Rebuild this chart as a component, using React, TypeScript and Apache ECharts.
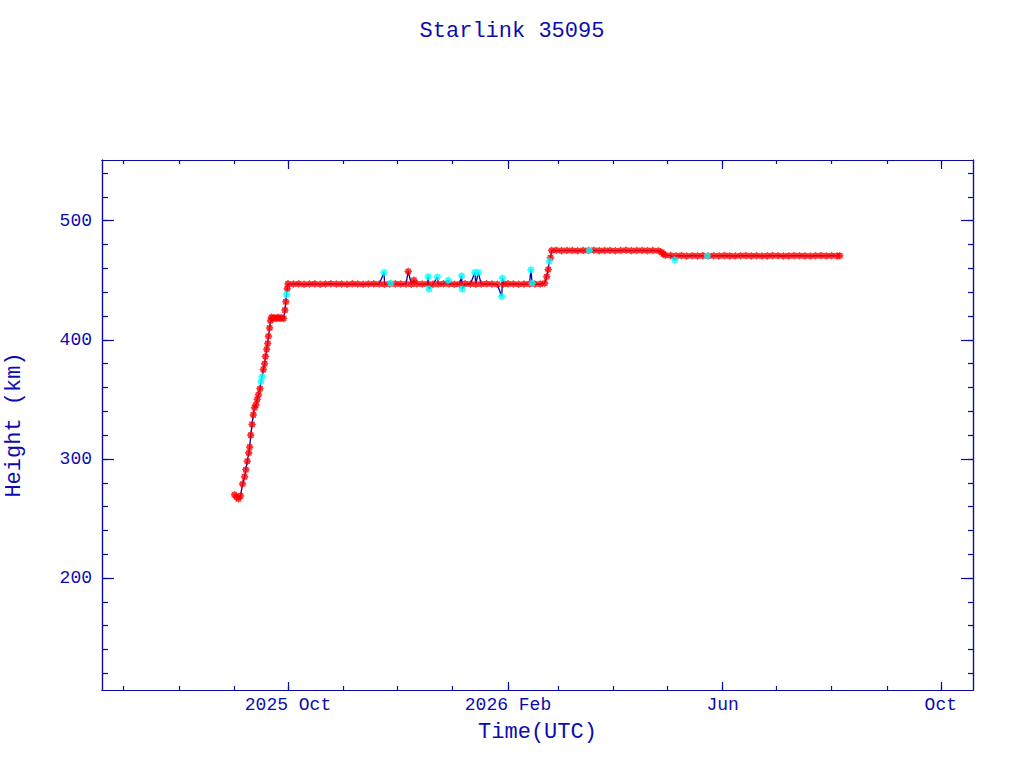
import React, { useEffect, useRef } from "react";
import * as echarts from "echarts";

// ---------- data ----------
const chartTitle = "Starlink 35095";
const xAxisTitle = "Time(UTC)";
const yAxisTitle = "Height (km)";

const xRange = ["2025-06-19", "2026-10-19"];
const yRange = [106, 551];

const monthTicks = [
  "2025-07-01", "2025-08-01", "2025-09-01", "2025-10-01", "2025-11-01", "2025-12-01",
  "2026-01-01", "2026-02-01", "2026-03-01", "2026-04-01", "2026-05-01", "2026-06-01",
  "2026-07-01", "2026-08-01", "2026-09-01", "2026-10-01",
];
const labelMonths = ["2025-10-01", "2026-02-01", "2026-06-01", "2026-10-01"];
const labelTexts = ["2025 Oct", "2026 Feb", "Jun", "Oct"];

const yMajorTicks = [200, 300, 400, 500];
const yMinorTicks = [
  120, 140, 160, 180, 200, 220, 240, 260, 280, 300, 320, 340, 360, 380, 400, 420, 440, 460,
  480, 500, 520, 540,
];

// ascent after launch (red)
const ascentRed: [string, number][] = [
  ["2025-09-01 02", 270], ["2025-09-02 05", 268], ["2025-09-03 07", 266.5], ["2025-09-04 11", 269],
  ["2025-09-05 14", 279], ["2025-09-06 17", 285], ["2025-09-07 10", 291], ["2025-09-08 06", 298],
  ["2025-09-09 01", 305], ["2025-09-09 14", 310], ["2025-09-10 04", 320], ["2025-09-10 22", 329],
  ["2025-09-11 14", 337], ["2025-09-12 07", 343], ["2025-09-13 02", 345.5], ["2025-09-13 19", 350],
  ["2025-09-14 12", 354], ["2025-09-15 08", 359], ["2025-09-17 05", 375], ["2025-09-17 22", 380],
  ["2025-09-18 10", 386], ["2025-09-19 02", 392], ["2025-09-19 16", 397], ["2025-09-20 02", 403],
  ["2025-09-20 17", 410], ["2025-09-21 05", 416], ["2025-09-21 19", 419], ["2025-09-22 12", 418],
  ["2025-09-23 12", 418.5], ["2025-09-24 12", 418], ["2025-09-25 12", 419], ["2025-09-26 12", 418],
  ["2025-09-27 12", 418.5], ["2025-09-28 12", 418], ["2025-09-29 07", 425], ["2025-09-29 19", 432],
  ["2025-09-30 14", 443],
];

// first shell (red)
const shell1Red: [string, number][] = [
  ["2025-10-01 00", 447], ["2025-10-04 00", 446.8], ["2025-10-07 00", 447], ["2025-10-10 00", 446.6],
  ["2025-10-13 00", 446.9], ["2025-10-16 00", 447], ["2025-10-19 00", 446.7], ["2025-10-22 00", 446.9],
  ["2025-10-25 00", 447.1], ["2025-10-28 00", 446.8], ["2025-10-31 00", 446.9], ["2025-11-03 00", 446.7],
  ["2025-11-06 00", 447], ["2025-11-09 00", 446.8], ["2025-11-12 00", 446.6], ["2025-11-15 00", 446.9],
  ["2025-11-18 00", 447], ["2025-11-21 00", 446.8], ["2025-11-24 00", 446.7], ["2025-11-27 00", 446.9],
  ["2025-11-30 00", 447], ["2025-12-03 00", 446.8], ["2025-12-06 00", 446.9], ["2025-12-07 05", 457.4],
  ["2025-12-09 00", 446.7], ["2025-12-10 10", 450], ["2025-12-12 00", 447], ["2025-12-15 00", 446.8],
  ["2025-12-18 00", 446.9], ["2025-12-21 00", 446.6], ["2025-12-24 00", 446.8], ["2025-12-27 00", 447],
  ["2025-12-30 00", 446.9], ["2026-01-02 00", 446.7], ["2026-01-05 00", 446.8], ["2026-01-08 00", 447],
  ["2026-01-11 00", 446.9], ["2026-01-14 00", 446.7], ["2026-01-17 00", 446.8], ["2026-01-20 00", 447],
  ["2026-01-23 00", 446.9], ["2026-01-26 00", 446.6], ["2026-01-29 12", 446.8], ["2026-02-01 00", 447],
  ["2026-02-04 00", 446.9], ["2026-02-07 00", 446.7], ["2026-02-10 00", 446.8], ["2026-02-13 00", 447],
  ["2026-02-16 00", 446.9], ["2026-02-19 00", 446.8], ["2026-02-21 12", 447.5],
];

// raise to second shell (red)
const shell2Red: [string, number][] = [
  ["2026-02-22 15", 453], ["2026-02-23 12", 459], ["2026-02-24 20", 469], ["2026-02-25 10", 475],
  ["2026-02-28 00", 475.2], ["2026-03-03 00", 474.9], ["2026-03-06 00", 475.1], ["2026-03-09 00", 475],
  ["2026-03-12 00", 474.8], ["2026-03-15 00", 475.1], ["2026-03-18 00", 475], ["2026-03-21 00", 475.2],
  ["2026-03-24 00", 474.9], ["2026-03-27 00", 475], ["2026-03-30 00", 475.1], ["2026-04-02 00", 474.8],
  ["2026-04-05 00", 475], ["2026-04-08 00", 475.2], ["2026-04-11 00", 474.9], ["2026-04-14 00", 475],
  ["2026-04-17 00", 475.1], ["2026-04-20 00", 474.9], ["2026-04-23 00", 475], ["2026-04-26 00", 474.8],
  ["2026-04-28 00", 473.5], ["2026-04-29 00", 472], ["2026-04-30 00", 471],
];

// third shell (red)
const shell3Red: [string, number][] = [
  ["2026-05-03 00", 470.8], ["2026-05-06 00", 470.5], ["2026-05-09 00", 470.7], ["2026-05-12 00", 470.4],
  ["2026-05-15 00", 470.6], ["2026-05-18 00", 470.5], ["2026-05-21 00", 470.7], ["2026-05-24 00", 470.4],
  ["2026-05-27 00", 470.6], ["2026-05-30 00", 470.5], ["2026-06-02 00", 470.7], ["2026-06-05 00", 470.5],
  ["2026-06-08 00", 470.4], ["2026-06-11 00", 470.6], ["2026-06-14 00", 470.7], ["2026-06-17 00", 470.5],
  ["2026-06-20 00", 470.6], ["2026-06-23 00", 470.4], ["2026-06-26 00", 470.5], ["2026-06-29 00", 470.7],
  ["2026-07-02 00", 470.6], ["2026-07-05 00", 470.4], ["2026-07-08 00", 470.5], ["2026-07-11 00", 470.7],
  ["2026-07-14 00", 470.6], ["2026-07-17 00", 470.5], ["2026-07-20 00", 470.4], ["2026-07-23 00", 470.6],
  ["2026-07-26 00", 470.7], ["2026-07-29 00", 470.5], ["2026-08-01 00", 470.6], ["2026-08-04 00", 470.5],
  ["2026-08-05 12", 470.6],
];

// lower-quality fits (cyan)
const cyanObs: [string, number][] = [
  ["2025-09-15 22", 365], ["2025-09-16 12", 369], ["2025-09-30 04", 438],
  ["2025-11-23 17", 456.5], ["2025-11-27 12", 447.5],
  ["2025-12-18 10", 453], ["2025-12-18 20", 442.6], ["2025-12-23 12", 452.7], ["2025-12-29 14", 450],
  ["2026-01-06 02", 453.8], ["2026-01-06 10", 442.6], ["2026-01-13 12", 456.6], ["2026-01-15 10", 456.6],
  ["2026-01-28 12", 436.4], ["2026-01-28 22", 451.8], ["2026-02-13 20", 458.8], ["2026-02-14 12", 447.5],
  ["2026-02-24 02", 466], ["2026-03-18 12", 475], ["2026-05-05 08", 467], ["2026-05-23 12", 470.6],
];

// ---------- helpers ----------
const utc = (s: string): number => {
  const [d, h] = s.split(" ");
  return Date.parse(`${d}T${(h ?? "00").padStart(2, "0")}:00:00Z`);
};
const toPts = (arr: [string, number][]) => arr.map(([d, v]) => [utc(d), v]);

const TEXT = "#0c0cb0";
const AXIS = "#0a0aa0";
const FONT = "'Liberation Mono', 'DejaVu Sans Mono', monospace";
const MARK =
  "path://M8,4L6.77,5.15L6.83,6.83L5.15,6.77L4,8L2.85,6.77L1.17,6.83L1.23,5.15L0,4L1.23,2.85L1.17,1.17L2.85,1.23L4,0L5.15,1.23L6.83,1.17L6.77,2.85Z";

export default function App() {
  const ref = useRef<HTMLDivElement>(null);

  useEffect(() => {
    if (!ref.current) return;
    const chart = echarts.init(ref.current, undefined, { renderer: "svg" });

    const redPts = toPts([...ascentRed, ...shell1Red, ...shell2Red, ...shell3Red]);
    const cyanPts = toPts(cyanObs);
    const allPts = [...redPts, ...cyanPts].sort((a, b) => a[0] - b[0]);

    const xMin = utc(xRange[0]);
    const xMax = utc(xRange[1]);
    const monthVals = monthTicks.map(utc);
    const labelVals = labelMonths.map(utc);

    const xBase = (position: "top" | "bottom", ticks: number[], len: number) => ({
      type: "value" as const,
      position,
      min: xMin,
      max: xMax,
      splitLine: { show: false },
      axisLine: { show: true, onZero: false, lineStyle: { color: AXIS, width: 1.2 } },
      axisTick: { show: true, inside: true, length: len, customValues: ticks, lineStyle: { color: AXIS, width: 1.2 } },
      axisLabel: { show: false },
    });
    const yBase = (position: "left" | "right", ticks: number[], len: number) => ({
      type: "value" as const,
      position,
      min: yRange[0],
      max: yRange[1],
      splitLine: { show: false },
      axisLine: { show: true, onZero: false, lineStyle: { color: AXIS, width: 1.2 } },
      axisTick: { show: true, inside: true, length: len, customValues: ticks, lineStyle: { color: AXIS, width: 1.2 } },
      axisLabel: { show: false },
    });

    chart.setOption({
      animation: false,
      backgroundColor: "#ffffff",
      title: {
        text: chartTitle,
        left: "center",
        top: 15,
        textStyle: { fontFamily: FONT, fontSize: 22, fontWeight: "normal", color: TEXT },
      },
      grid: { left: 102, top: 160, right: 51, bottom: 78, containLabel: false, outerBoundsMode: "none" },
      xAxis: [
        xBase("bottom", monthVals, 4),
        {
          ...xBase("bottom", labelVals, 8),
          name: xAxisTitle,
          nameLocation: "middle",
          nameGap: 31,
          nameTextStyle: { fontFamily: FONT, fontSize: 22, color: TEXT },
          axisLabel: {
            show: true,
            customValues: labelVals,
            margin: 6,
            fontFamily: FONT,
            fontSize: 18,
            color: TEXT,
            formatter: (v: number) => {
              const i = labelVals.indexOf(v);
              return i >= 0 ? labelTexts[i] : "";
            },
          },
        },
        xBase("top", monthVals, 4),
        xBase("top", labelVals, 9),
      ],
      yAxis: [
        yBase("left", yMinorTicks, 6),
        {
          ...yBase("left", yMajorTicks, 12),
          name: yAxisTitle,
          nameLocation: "middle",
          nameGap: 77,
          nameRotate: 90,
          nameTextStyle: { fontFamily: FONT, fontSize: 22, color: TEXT },
          axisLabel: {
            show: true,
            customValues: yMajorTicks,
            margin: 10,
            fontFamily: FONT,
            fontSize: 18,
            color: TEXT,
          },
        },
        yBase("right", yMinorTicks, 5),
        yBase("right", yMajorTicks, 12),
      ],
      series: [
        {
          type: "line",
          xAxisIndex: 0,
          yAxisIndex: 0,
          data: allPts,
          showSymbol: false,
          symbol: "none",
          lineStyle: { color: "#0000a8", width: 1.3 },
          z: 2,
        },
        {
          type: "scatter",
          xAxisIndex: 0,
          yAxisIndex: 0,
          data: redPts,
          symbol: MARK,
          symbolSize: 8,
          itemStyle: { color: "#ff0000" },
          z: 3,
        },
        {
          type: "scatter",
          xAxisIndex: 0,
          yAxisIndex: 0,
          data: cyanPts,
          symbol: MARK,
          symbolSize: 8,
          itemStyle: { color: "#00ffff" },
          z: 4,
        },
      ],
    });

    return () => chart.dispose();
  }, []);

  return (
    <div
      ref={ref}
      style={{ position: "fixed", left: 0, top: 0, width: 1024, height: 768, background: "#ffffff" }}
    />
  );
}
